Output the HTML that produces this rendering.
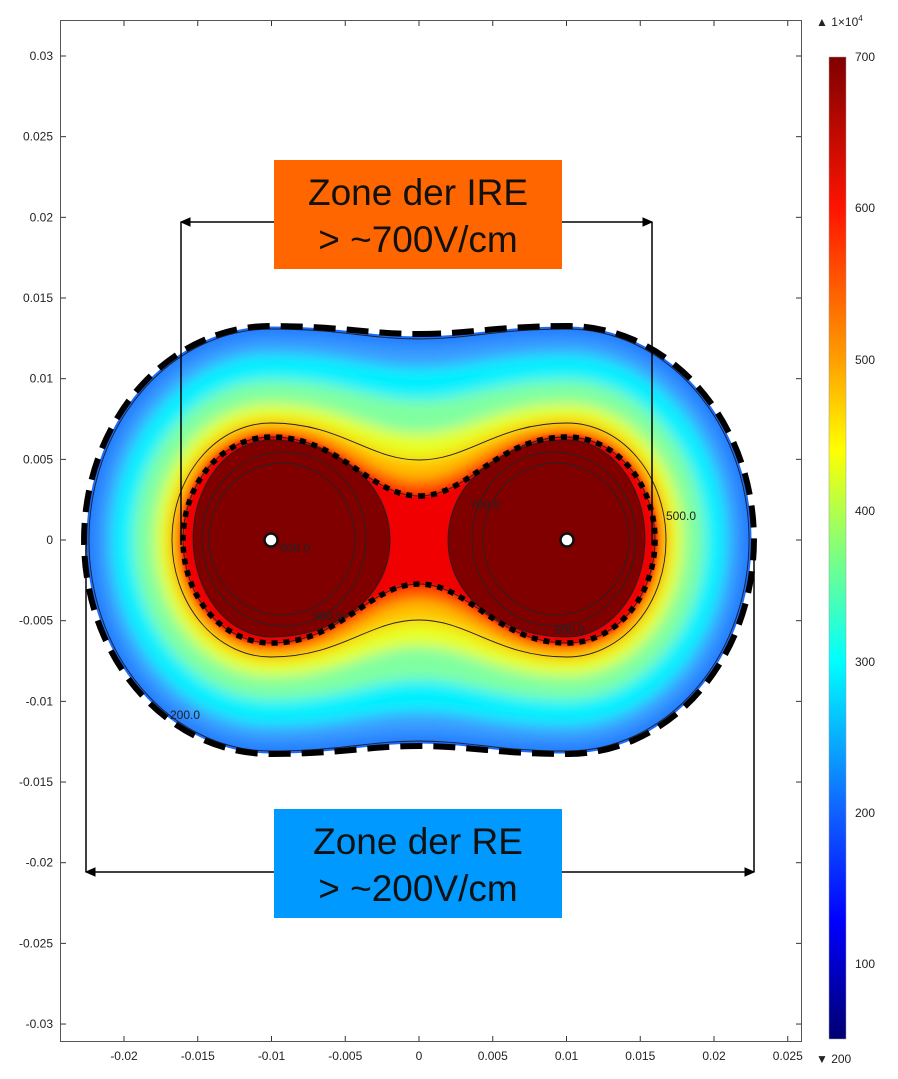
<!DOCTYPE html>
<html><head><meta charset="utf-8"><style>
body{margin:0;background:#fff}
svg text{font-family:"Liberation Sans",sans-serif}
</style></head><body>
<svg id="s" width="898" height="1074" viewBox="0 0 898 1074" xmlns="http://www.w3.org/2000/svg">
<defs>
<filter id="b8" x="-20%" y="-20%" width="140%" height="140%"><feGaussianBlur stdDeviation="7"/></filter>
<filter id="b3"><feGaussianBlur stdDeviation="2"/></filter>
<linearGradient id="cb" x1="0" y1="0" x2="0" y2="1">
<stop offset="0" stop-color="#7f0000"/>
<stop offset="0.155" stop-color="#ff1400"/>
<stop offset="0.31" stop-color="#ffa000"/>
<stop offset="0.40" stop-color="#ffff00"/>
<stop offset="0.47" stop-color="#a8ff55"/>
<stop offset="0.615" stop-color="#00ffff"/>
<stop offset="0.77" stop-color="#1060ff"/>
<stop offset="0.88" stop-color="#0000ff"/>
<stop offset="1" stop-color="#000070"/>
</linearGradient>
<clipPath id="oc"><path id="outerClip"/></clipPath>
</defs>
<rect x="60.5" y="20.5" width="741" height="1021" fill="none" stroke="#555" stroke-width="1"/>
<g id="ticks" stroke="#333" stroke-width="1"></g>
<g id="labels" font-size="12" fill="#222"></g>
<g id="field"></g>
<!-- colorbar -->
<rect x="829" y="57" width="17" height="982" fill="url(#cb)" stroke="#999" stroke-width="0.5"/>
<g font-size="12" fill="#222">
<text x="855" y="61">700</text><text x="855" y="212">600</text><text x="855" y="364">500</text>
<text x="855" y="515">400</text><text x="855" y="666">300</text><text x="855" y="817">200</text>
<text x="855" y="968">100</text>
<text x="816" y="1063">▼ 200</text>
<text x="816" y="26">▲ 1×10<tspan font-size="8" dy="-5">4</tspan></text>
</g>
<g stroke="#000" stroke-width="1" fill="#000">
<line x1="181" y1="222" x2="652" y2="222" stroke-width="1.5"/>
<polygon points="181,222 190,218 190,226"/><polygon points="652,222 643,218 643,226"/>
<line x1="181" y1="222" x2="181" y2="545" stroke-width="1.5"/>
<line x1="652" y1="222" x2="652" y2="545" stroke-width="1.5"/>
<line x1="86" y1="872" x2="754" y2="872" stroke-width="1.5"/>
<polygon points="86,872 95,868 95,876"/><polygon points="754,872 745,868 745,876"/>
<line x1="86" y1="545" x2="86" y2="872" stroke-width="1.5"/>
<line x1="754" y1="540" x2="754" y2="872" stroke-width="1.5"/>
</g>
<rect x="274" y="160" width="288" height="109" fill="#ff6600"/>
<text x="418" y="205" font-size="37" text-anchor="middle" fill="#111">Zone der IRE</text>
<text x="418" y="252" font-size="37" text-anchor="middle" fill="#111">&gt; ~700V/cm</text>
<rect x="274" y="809" width="288" height="109" fill="#0099ff"/>
<text x="418" y="854" font-size="37" text-anchor="middle" fill="#111">Zone der RE</text>
<text x="418" y="901" font-size="37" text-anchor="middle" fill="#111">&gt; ~200V/cm</text>
</svg>
<script>
function pn(rx,ry,h,dx){dx=dx||0;var L=271-dx,R=567+dx,c=540;
return "M419 "+(c-h)+" C469 "+(c-h)+" "+(R-70)+" "+(c-ry)+" "+R+" "+(c-ry)+
" A"+rx+" "+ry+" 0 0 1 "+R+" "+(c+ry)+
" C"+(R-70)+" "+(c+ry)+" 469 "+(c+h)+" 419 "+(c+h)+
" C369 "+(c+h)+" "+(L+70)+" "+(c+ry)+" "+L+" "+(c+ry)+
" A"+rx+" "+ry+" 0 0 1 "+L+" "+(c-ry)+
" C"+(L+70)+" "+(c-ry)+" 369 "+(c-h)+" 419 "+(c-h)+" Z";}
var NS="http://www.w3.org/2000/svg";
function el(p,t,a,txt){var e=document.createElementNS(NS,t);for(var k in a)e.setAttribute(k,a[k]);if(txt)e.textContent=txt;p.appendChild(e);return e;}
var F=document.getElementById("field");
document.getElementById("outerClip").setAttribute("d",pn(183,212,202));
el(F,"path",{d:pn(183,212,202),fill:"#1f78ff"});
var g=el(F,"g",{"clip-path":"url(#oc)"});
var gb=el(g,"g",{filter:"url(#b8)"});
[[176,205,195,"#3a9cff"],[160,186,172,"#00f0ff"],[138,160,140,"#80ffa0"],[116,136,106,"#e8ff20"],[102,120,82,"#ffc000"],[95,111,60,"#ff5000"],[90,105,46,"#ff1000"]].forEach(function(l){el(gb,"path",{d:pn(l[0],l[1],l[2]),fill:l[3]});});
el(g,"path",{d:pn(89,104,44),fill:"#f00000",filter:"url(#b3)"});
// dark blobs
el(g,"path",{d:"M567 440 A78 98.5 0 0 1 567 637 C505 637 448 600 448 540 C448 480 505 440 567 440 Z",fill:"#800000"});
el(g,"path",{d:"M271 440 A78 98.5 0 0 0 271 637 C333 637 390 600 390 540 C390 480 333 440 271 440 Z",fill:"#800000"});
// contour lines
var cl={fill:"none",stroke:"#222","stroke-width":"0.9"};
el(F,"path",Object.assign({d:pn(183,212,202)},{fill:"none",stroke:"#1a6cff","stroke-width":"3"}));
el(F,"path",Object.assign({d:pn(182,211,201)},cl));
el(F,"path",Object.assign({d:pn(99,117,80)},cl));
el(F,"path",Object.assign({d:pn(88,103,44)},cl));
el(F,"path",Object.assign({d:"M567 440 A78 98.5 0 0 1 567 637 C505 637 448 600 448 540 C448 480 505 440 567 440 Z"},cl));
el(F,"path",Object.assign({d:"M271 440 A78 98.5 0 0 0 271 637 C333 637 390 600 390 540 C390 480 333 440 271 440 Z"},cl));
[[556,539,73,76],[554,539,82,87],[282,539,73,76],[284,539,82,87]].forEach(function(c){el(F,"ellipse",Object.assign({cx:c[0],cy:c[1],rx:c[2],ry:c[3]},cl));});
// dashed / dotted
el(F,"path",{d:pn(186,214,206,1),fill:"none",stroke:"#000","stroke-width":"6","stroke-dasharray":"22 11"});
el(F,"path",{d:pn(88,103,44),fill:"none",stroke:"#000","stroke-width":"5.5","stroke-dasharray":"6 6"});
// electrodes
[271,567].forEach(function(x){el(F,"circle",{cx:x,cy:540,r:6.5,fill:"#fff",stroke:"#111","stroke-width":"2.5"});});
var lb=[["600.0",280,552],["900.0",313,620],["700.0",470,509],["800.0",555,634],["500.0",666,520],["200.0",170,719]];
lb.forEach(function(l){el(F,"text",{x:l[1],y:l[2],"font-size":"12",fill:"#222"},l[0]);});
// ticks & labels
var T=document.getElementById("ticks"),Lb=document.getElementById("labels");
var xl=["-0.02","-0.015","-0.01","-0.005","0","0.005","0.01","0.015","0.02","0.025"];
for(var i=0;i<10;i++){var x=124+i*73.75;el(T,"line",{x1:x,y1:1041,x2:x,y2:1036});el(T,"line",{x1:x,y1:21,x2:x,y2:26});
el(Lb,"text",{x:x,y:1060,"text-anchor":"middle"},xl[i]);}
var yl=["0.03","0.025","0.02","0.015","0.01","0.005","0","-0.005","-0.01","-0.015","-0.02","-0.025","-0.03"];
for(var j=0;j<13;j++){var y=56+j*80.67;el(T,"line",{x1:61,y1:y,x2:66,y2:y});el(T,"line",{x1:801,y1:y,x2:796,y2:y});
el(Lb,"text",{x:53,y:y+4,"text-anchor":"end"},yl[j]);}
</script>
</body></html>
